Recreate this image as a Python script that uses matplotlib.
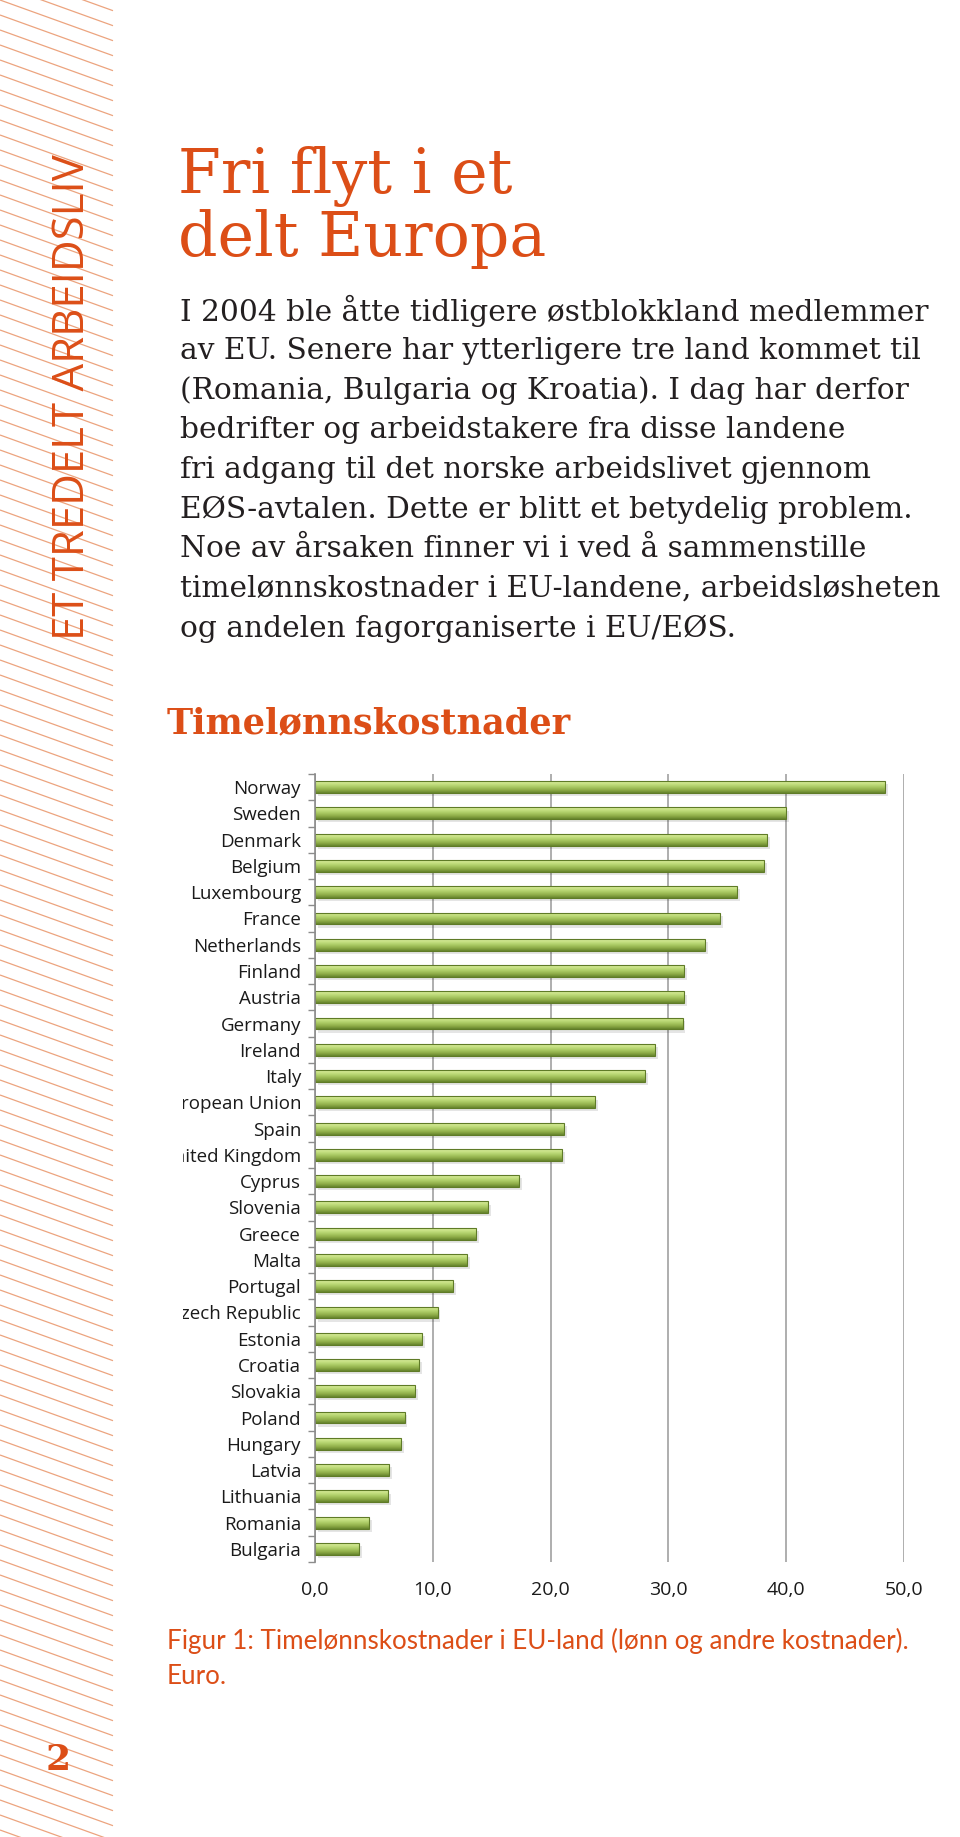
import numpy as np
import matplotlib
matplotlib.use("Agg")
import matplotlib.pyplot as plt
from matplotlib.transforms import Bbox, TransformedBbox
from matplotlib.colors import LinearSegmentedColormap

countries = ["Norway", "Sweden", "Denmark", "Belgium", "Luxembourg", "France",
             "Netherlands", "Finland", "Austria", "Germany", "Ireland", "Italy",
             "European Union", "Spain", "United Kingdom", "Cyprus", "Slovenia",
             "Greece", "Malta", "Portugal", "Czech Republic", "Estonia", "Croatia",
             "Slovakia", "Poland", "Hungary", "Latvia", "Lithuania", "Romania",
             "Bulgaria"]
costs = [48.4, 40.0, 38.4, 38.1, 35.8, 34.4,
         33.1, 31.3, 31.3, 31.2, 28.9, 28.0,
         23.8, 21.1, 21.0, 17.3, 14.7,
         13.7, 12.9, 11.7, 10.4, 9.1, 8.8,
         8.5, 7.6, 7.3, 6.3, 6.2, 4.6,
         3.7]
x_ticks = [0, 10, 20, 30, 40, 50]
x_ticklabels = ["0,0", "10,0", "20,0", "30,0", "40,0", "50,0"]

title_lines = ["Fri flyt i et", "delt Europa"]
body_lines = [
    "I 2004 ble åtte tidligere østblokkland medlemmer",
    "av EU. Senere har ytterligere tre land kommet til",
    "(Romania, Bulgaria og Kroatia). I dag har derfor",
    "bedrifter og arbeidstakere fra disse landene",
    "fri adgang til det norske arbeidslivet gjennom",
    "EØS-avtalen. Dette er blitt et betydelig problem.",
    "Noe av årsaken finner vi i ved å sammenstille",
    "timelønnskostnader i EU-landene, arbeidsløsheten",
    "og andelen fagorganiserte i EU/EØS.",
]
heading = "Timelønnskostnader"
caption = "Figur 1: Timelønnskostnader i EU-land (lønn og andre kostnader).\nEuro."
side_text = "ET TREDELT ARBEIDSLIV"

orange = "#dc4e17"
W, H = 960, 1837
fig = plt.figure(figsize=(W / 100, H / 100), dpi=100)

# page background in pixel coordinates
bg = fig.add_axes([0, 0, 1, 1])
bg.set_xlim(0, W)
bg.set_ylim(H, 0)
bg.axis("off")

# striped margin
stripe_w = 113
for y0 in np.arange(-60, H + 20, 15):
    bg.plot([0, stripe_w], [y0, y0 + stripe_w * 0.36], color="#eca47f", lw=0.9,
            solid_capstyle="butt")

bg.text(73, 397, side_text, rotation=90, ha="center", va="center",
        color=orange, fontsize=31.5, family="Open Sans")
bg.text(58, 1760, "2", ha="center", va="center", color=orange,
        fontsize=26, family="DejaVu Serif", fontweight="bold")

bg.text(178, 193, title_lines[0], color=orange, fontsize=44.5,
        family="DejaVu Serif", va="baseline")
bg.text(178, 256, title_lines[1], color=orange, fontsize=44.5,
        family="DejaVu Serif", va="baseline")

for i, line in enumerate(body_lines):
    bg.text(180, 311 + i * 39.7, line, color="#231f20", fontsize=21.3,
            family="DejaVu Serif", va="center")

bg.text(167, 723, heading, color=orange, fontsize=25.3, family="DejaVu Serif",
        fontweight="bold", va="center")

bg.text(167, 1641, caption.split("\n")[0], color=orange, fontsize=18.7,
        family="Lato", va="center")
bg.text(167, 1676, caption.split("\n")[1], color=orange, fontsize=18.7,
        family="Lato", va="center")

# chart
ax = fig.add_axes([315 / W, 1 - 1562 / H, (904 - 315) / W, (1562 - 774) / H])
ypos = np.arange(len(countries))
bar_h = 0.45
bars = ax.barh(ypos, costs, height=bar_h, color="#9bbb59",
               edgecolor="#5f7b27", linewidth=0.8, zorder=3)

# soft shadow below each bar
ax.barh(ypos + 0.12, costs, height=bar_h, left=0.25, color="#000000",
        alpha=0.10, linewidth=0, zorder=2)

green = LinearSegmentedColormap.from_list(
    "grn", ["#dcee9f", "#c4df80", "#a9c962", "#8dab47", "#66842d"])
grad = np.linspace(0, 1, 64).reshape(-1, 1)
for b in bars:
    x0, y0 = b.get_x(), b.get_y()
    im = ax.imshow(grad, cmap=green, aspect="auto", zorder=4,
                   extent=[x0, x0 + b.get_width(), y0 + b.get_height(), y0],
                   interpolation="bilinear")
    im.set_clip_path(b)
    b.set_facecolor("none")
    b.set_zorder(5)

ax.set_xlim(0, 50)
ax.set_ylim(len(countries) - 0.5, -0.5)
ax.set_xticks(x_ticks)
ax.set_xticklabels(x_ticklabels, family="Open Sans", fontsize=14, color="#1a1a1a")
ax.tick_params(axis="x", length=0, pad=14)
ax.xaxis.grid(True, color="#a8a8a8", lw=1.3, zorder=0)

ax.set_yticks(np.arange(-0.5, len(countries)), minor=False)
ax.set_yticklabels([])
ax.set_yticks(ypos, minor=True)
ax.set_yticklabels(countries, minor=True, family="Open Sans", fontsize=13.5,
                   color="#1a1a1a")
ax.tick_params(axis="y", which="major", length=5, color="#8c8c8c", width=1)
ax.tick_params(axis="y", which="minor", length=0, pad=10)

for side in ["top", "right", "bottom"]:
    ax.spines[side].set_visible(False)
ax.spines["left"].set_color("#8c8c8c")
ax.spines["left"].set_linewidth(1.2)
ax.spines["left"].set_zorder(6)

clip = TransformedBbox(Bbox([[183 / W, 0], [1, 1]]), fig.transFigure)
for lab in ax.get_yticklabels(minor=True):
    lab.set_clip_on(True)
    lab.set_clip_box(clip)

fig.savefig("out.png", dpi=100)
